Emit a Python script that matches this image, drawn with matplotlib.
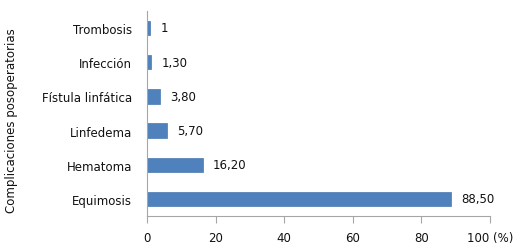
import matplotlib
matplotlib.use("Agg")
import matplotlib.pyplot as plt

categories = ["Equimosis", "Hematoma", "Linfedema", "Fístula linfática", "Infección", "Trombosis"]
values = [88.50, 16.20, 5.70, 3.80, 1.30, 1]
value_labels = ["88,50", "16,20", "5,70", "3,80", "1,30", "1"]
xticks = [0, 20, 40, 60, 80, 100]
xtick_labels = ["0", "20", "40", "60", "80", "100 (%)"]

plt.rcParams['font.family'] = ['DejaVu Sans']
fig = plt.figure(figsize=(5.27, 2.53), dpi=100)
ax = fig.add_axes([0.279, 0.142, 0.651, 0.811])
ypos = list(range(len(categories)))
ax.barh(ypos, values, height=0.42, color="#4F81BD", edgecolor="#4A7AB3", linewidth=0.5)
for y, v, lab in zip(ypos, values, value_labels):
    ax.text(v + 3, y, lab, va="center", ha="left", fontsize=8.5, color="#111111")
ax.set_yticks(ypos)
ax.set_yticklabels(categories, fontsize=8.5, color="#111111")
ax.set_xticks(xticks)
ax.set_xticklabels(xtick_labels, fontsize=8.5, color="#111111")
ax.set_xlim(0, 100)
ax.set_ylim(-0.5, 5.5)
for s in ["top", "right"]:
    ax.spines[s].set_visible(False)
for s in ["left", "bottom"]:
    ax.spines[s].set_color("#A6A6A6")
ax.tick_params(axis="y", length=0, pad=11)
ax.tick_params(axis="x", length=5, color="#A6A6A6", pad=6)
ax.set_ylabel("Complicaciones posoperatorias", fontsize=8.5, color="#111111")
ax.yaxis.set_label_coords(-0.376, 0.47)
fig.savefig("out.png", dpi=100)
